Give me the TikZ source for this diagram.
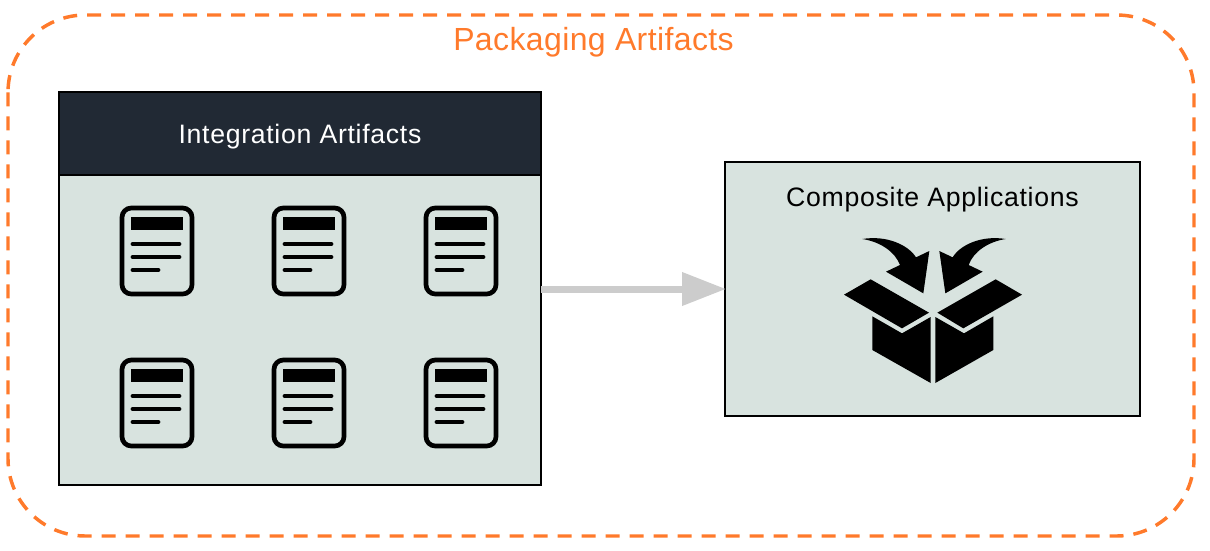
\documentclass[tikz,border=0pt]{standalone}
\usepackage{fontspec}
\setmainfont{Liberation Sans}
\usetikzlibrary{arrows.meta}
\definecolor{orangeline}{HTML}{FF7A2B}
\definecolor{panel}{HTML}{D8E3DF}
\definecolor{headdark}{HTML}{212934}
\definecolor{arrowgrey}{HTML}{CCCCCC}
\tikzset{
  x=0.75pt,y=-0.75pt,
  outerframe/.style={draw=orangeline,line width=2.6pt,dash pattern=on 10.5pt off 7.5pt,rounded corners=58pt,inner sep=0pt},
  panelbox/.style={draw=black,line width=0.8pt,fill=panel,inner sep=0pt,outer sep=0pt},
  headbox/.style={draw=black,line width=0.8pt,fill=headdark,inner sep=0pt,outer sep=0pt},
  flow/.style={draw=arrowgrey,line width=5.25pt,-{Triangle[length=33pt,width=24pt]},shorten >=-0.8pt},
  labelfont/.style={font=\fontsize{20}{22}\selectfont\addfontfeature{LetterSpace=2.6}},
  titlefont/.style={font=\fontsize{24}{26}\selectfont\addfontfeature{LetterSpace=1.2}},
  docicon/.pic={
    \draw[line width=3.5pt,rounded corners=7pt] (-35,-43) rectangle (35,43);
    \fill (-26,-34) rectangle (26,-21);
    \draw[line width=3.6pt,line cap=round] (-24,-7)--(22,-7) (-24,6)--(22,6) (-24,19)--(1,19);
  }
}
\begin{document}
\begin{tikzpicture}
\useasboundingbox (0,0) rectangle (1210,550);
\draw[outerframe] (8,15) rectangle (1194,536);
\node[orangeline,titlefont,inner sep=0pt] (title) at (593.5,42) {Packaging Artifacts};
\node[panelbox,minimum width=361.5pt,minimum height=294.75pt] (intbox) at (300,288.5) {};
\node[headbox,minimum width=361.5pt,minimum height=62.25pt] (inthead) at (300,133.5) {};
\node[text=white,labelfont,inner sep=0pt] (intlabel) at (300,136.5) {Integration Artifacts};
\node[panelbox,minimum width=311.25pt,minimum height=190.5pt] (comp) at (932.5,289) {};
\node[labelfont,inner sep=0pt] (complabel) at (932.5,199.5) {Composite Applications};
\foreach \cx in {157,309,461}\foreach \cy in {251,403}{\pic at (\cx,\cy) {docicon};}
\draw[flow] (intbox.east |- comp) -- (comp);
\begin{scope}[shift={(830,225)},x=0.25pt,y=-0.25pt]
\fill (42,209)--(122,163)--(297,263)--(216,310)--cycle;
\fill (322,263)--(497,163)--(576,209)--(400,310)--cycle;
\fill (127,274)--(216,325)--(302,276)--(302,474)--(127,375)--cycle;
\fill (316,276)--(402,325)--(490,274)--(490,375)--(316,474)--cycle;
\fill (97,42) .. controls (170,30) and (235,60) .. (258,97)--(298,78)--(280,205)--(168,140)--(210,120) .. controls (195,80) and (150,50) .. (97,42)--cycle;
\fill (527,42) .. controls (454,30) and (390,60) .. (368,97)--(328,78)--(346,205)--(458,140)--(416,120) .. controls (430,80) and (475,50) .. (527,42)--cycle;
\end{scope}
\end{tikzpicture}
\end{document}
